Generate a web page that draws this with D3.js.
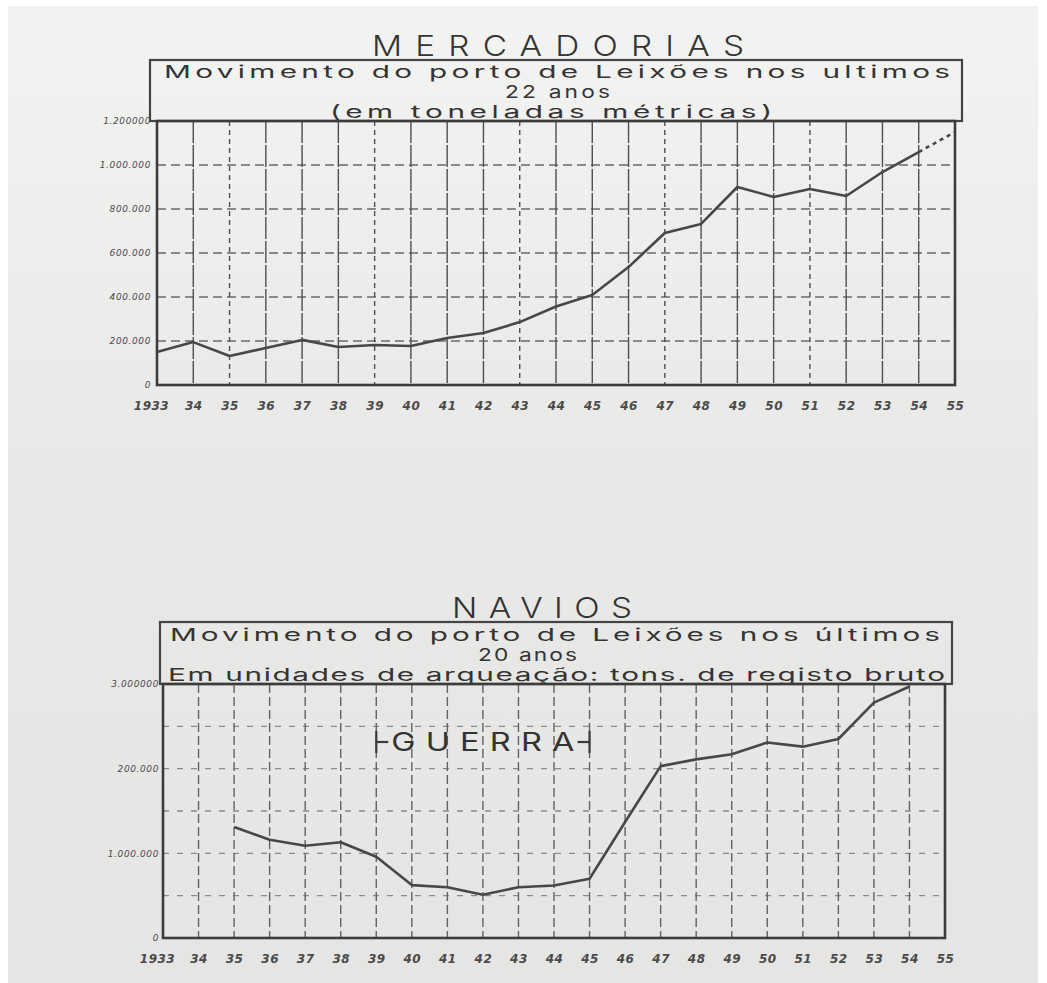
<!DOCTYPE html>
<html>
<head>
<meta charset="utf-8">
<script src="https://cdn.jsdelivr.net/npm/d3@7"></script>
<style>
  body { margin: 0; background: #fff; }
  .titles { font-family: Inter, "DejaVu Sans", sans-serif; fill: #343434; }
  .tick text { font-family: "DejaVu Sans", sans-serif; font-style: italic; fill: #4a4a4a; }
</style>
</head>
<body>
<div id="chart"></div>
<script>
// data
const years = [1933, 1934, 1935, 1936, 1937, 1938, 1939, 1940, 1941, 1942, 1943, 1944,
               1945, 1946, 1947, 1948, 1949, 1950, 1951, 1952, 1953, 1954, 1955];
const yearLabels = ['1933', '34', '35', '36', '37', '38', '39', '40', '41', '42', '43', '44',
                    '45', '46', '47', '48', '49', '50', '51', '52', '53', '54', '55'];

// mercadorias, toneladas 1933-1954
const mercYears = [1933, 1934, 1935, 1936, 1937, 1938, 1939, 1940, 1941, 1942, 1943,
                   1944, 1945, 1946, 1947, 1948, 1949, 1950, 1951, 1952, 1953, 1954];
const mercValues = [150000, 195000, 132000, 168000, 205000, 173000, 182000, 177000, 214000, 236000, 286000,
                    357000, 409000, 536000, 691000, 732000, 900000, 855000, 891000, 859000, 968000, 1059000];
// dotted part 1954 -> 1955
const mercProjYears = [1954, 1955];
const mercProjValues = [1059000, 1150000];

// navios, tons. de registo bruto 1935-1954
const navYears = [1935, 1936, 1937, 1938, 1939, 1940, 1941, 1942, 1943, 1944,
                  1945, 1946, 1947, 1948, 1949, 1950, 1951, 1952, 1953, 1954];
const navValues = [1310000, 1160000, 1090000, 1130000, 960000, 625000, 600000, 510000, 600000, 620000,
                   700000, 1370000, 2030000, 2110000, 2170000, 2310000, 2260000, 2350000, 2780000, 2970000];

const mercTicks = [0, 200000, 400000, 600000, 800000, 1000000, 1200000];
const mercTickLabels = ['0', '200.000', '400.000', '600.000', '800.000', '1.000.000', '1.200000'];
const navGrid = [500000, 1000000, 1500000, 2000000, 2500000];
const navTicks = [0, 1000000, 2000000, 3000000];
const navTickLabels = ['0', '1.000.000', '200.000', '3.000000'];
const warYears = [1939, 1945];

const width = 1047;
const height = 983;

const svg = d3.select('div#chart').append('svg').attr('width', width).attr('height', height);

// paper
const defs = svg.append('defs');
const grad = defs.append('linearGradient').attr('id', 'paper').attr('x1', 0).attr('y1', 0).attr('x2', 0).attr('y2', 1);
grad.append('stop').attr('offset', '0%').attr('stop-color', '#f3f3f1');
grad.append('stop').attr('offset', '45%').attr('stop-color', '#e9e9e7');
grad.append('stop').attr('offset', '100%').attr('stop-color', '#e5e5e3');
svg.append('rect').attr('x', 8).attr('y', 6).attr('width', 1030).attr('height', height - 6).attr('fill', 'url(#paper)');

// lettering: glyphs widened by sx, rest of the width taken by spacing
function title(g, t) {
    const sx = t.sx || 1.7;
    g.append('text').attr('class', 'titles')
        .attr('transform', `translate(${t.x0},${t.y}) scale(${sx},1)`)
        .attr('font-size', t.size)
        .attr('font-weight', t.weight || 400)
        .attr('textLength', (t.x1 - t.x0) / sx).attr('lengthAdjust', 'spacing')
        .text(t.text);
}

// one chart panel
function drawPanel(cfg) {
    const g = svg.append('g').attr('class', cfg.name);
    const x = d3.scaleLinear().domain([1933, 1955]).range([cfg.left, cfg.right]);
    const y = d3.scaleLinear().domain([0, cfg.max]).range([cfg.bottom, cfg.top]);

    // title box
    g.append('rect')
        .attr('x', cfg.box[0]).attr('y', cfg.box[1])
        .attr('width', cfg.box[2] - cfg.box[0]).attr('height', cfg.top - cfg.box[1])
        .attr('fill', 'none').attr('stroke', '#444').attr('stroke-width', 2.2);

    cfg.titles.forEach(t => title(g, t));

    // grid
    g.append('g').selectAll('line').data(cfg.hGrid).enter().append('line')
        .attr('x1', cfg.left).attr('x2', cfg.right)
        .attr('y1', d => y(d)).attr('y2', d => y(d))
        .attr('stroke', cfg.hColor).attr('stroke-width', 1.3).attr('stroke-dasharray', cfg.hDash);

    g.append('g').selectAll('line').data(years.slice(1, -1)).enter().append('line')
        .attr('x1', d => x(d)).attr('x2', d => x(d))
        .attr('y1', cfg.top).attr('y2', cfg.bottom)
        .attr('stroke', cfg.vColor).attr('stroke-width', 1.4)
        .attr('stroke-dasharray', (d, i) => i % 4 === 1 ? cfg.vDash2 : cfg.vDash);

    // axes
    const xAxis = d3.axisBottom(x).tickValues(years).tickFormat((d, i) => yearLabels[i]).tickSize(0).tickPadding(cfg.xPad);
    const xg = g.append('g').attr('transform', `translate(0,${cfg.bottom})`).call(xAxis);
    xg.select('.domain').remove();
    xg.selectAll('text').attr('font-size', 12).attr('font-weight', 'bold').attr('letter-spacing', 0.5)
        .attr('dx', (d, i) => i === 0 ? -6 : 0);

    const yAxis = d3.axisLeft(y).tickValues(cfg.yTicks).tickFormat((d, i) => cfg.yLabels[i]).tickSize(0).tickPadding(cfg.yPad);
    const yg = g.append('g').attr('transform', `translate(${cfg.left},0)`).call(yAxis);
    yg.select('.domain').remove();
    yg.selectAll('text').attr('font-size', 9).attr('letter-spacing', 0.6);

    // frame
    g.append('rect')
        .attr('x', cfg.left).attr('y', cfg.top)
        .attr('width', cfg.right - cfg.left).attr('height', cfg.bottom - cfg.top)
        .attr('fill', 'none').attr('stroke', '#3c3c3c').attr('stroke-width', 2.6);

    const line = d3.line().x(d => x(d[0])).y(d => y(d[1]));
    cfg.series.forEach(s => {
        g.append('path')
            .datum(s.years.map((yr, i) => [yr, s.values[i]]))
            .attr('d', line)
            .attr('fill', 'none').attr('stroke', '#474747').attr('stroke-width', 2.6)
            .attr('stroke-linejoin', 'round')
            .attr('stroke-dasharray', s.dash || null);
    });

    return { x: x, y: y, g: g };
}

drawPanel({
    name: 'mercadorias',
    left: 157, right: 955, top: 121, bottom: 385, max: 1200000,
    box: [150, 60, 962],
    titles: [
        { text: 'MERCADORIAS', x0: 372, x1: 744, y: 56, size: 29, sx: 1.15, weight: 300 },
        { text: 'Movimento do porto de Leixões nos ultimos', x0: 164, x1: 950, y: 78, size: 17.5 },
        { text: '22 anos', x0: 505, x1: 610, y: 98, size: 17.5, sx: 1.3 },
        { text: '(em toneladas métricas)', x0: 330, x1: 772, y: 118, size: 17.5 }
    ],
    hGrid: mercTicks.slice(1, -1), hColor: '#6a6a6a', hDash: '9,5',
    vColor: '#4e4e4e', vDash: '22,2', vDash2: '5,4',
    yTicks: mercTicks, yLabels: mercTickLabels, yPad: 6, xPad: 16,
    series: [
        { years: mercYears, values: mercValues },
        { years: mercProjYears, values: mercProjValues, dash: '4,4' }
    ]
});

const nav = drawPanel({
    name: 'navios',
    left: 163, right: 945, top: 684, bottom: 938, max: 3000000,
    box: [160, 622, 952],
    titles: [
        { text: 'NAVIOS', x0: 452, x1: 632, y: 618, size: 29, sx: 1.15, weight: 300 },
        { text: 'Movimento do porto de Leixões nos últimos', x0: 170, x1: 940, y: 641, size: 17.5 },
        { text: '20 anos', x0: 478, x1: 577, y: 661, size: 17.5, sx: 1.3 },
        { text: 'Em unidades de arqueação: tons. de registo bruto', x0: 168, x1: 945, y: 681, size: 17.5 }
    ],
    hGrid: navGrid, hColor: '#8a8a8a', hDash: '6,8',
    vColor: '#626262', vDash: '9,4', vDash2: '9,4',
    yTicks: navTicks, yLabels: navTickLabels, yPad: 4, xPad: 16,
    series: [
        { years: navYears, values: navValues }
    ]
});

// war marker
const wx0 = nav.x(warYears[0]);
const wx1 = nav.x(warYears[1]);
const wy = 742;
nav.g.append('line').attr('x1', wx0).attr('x2', wx0).attr('y1', wy - 11).attr('y2', wy + 11).attr('stroke', '#3a3a3a').attr('stroke-width', 2.2);
nav.g.append('line').attr('x1', wx1).attr('x2', wx1).attr('y1', wy - 11).attr('y2', wy + 11).attr('stroke', '#3a3a3a').attr('stroke-width', 2.2);
nav.g.append('line').attr('x1', wx0).attr('x2', wx0 + 12).attr('y1', wy).attr('y2', wy).attr('stroke', '#3a3a3a').attr('stroke-width', 2.2);
nav.g.append('line').attr('x1', wx1 - 12).attr('x2', wx1).attr('y1', wy).attr('y2', wy).attr('stroke', '#3a3a3a').attr('stroke-width', 2.2);
title(nav.g, { text: 'GUERRA', x0: wx0 + 15, x1: wx1 - 15, y: wy + 9, size: 25, sx: 1.3 });
</script>
</body>
</html>
